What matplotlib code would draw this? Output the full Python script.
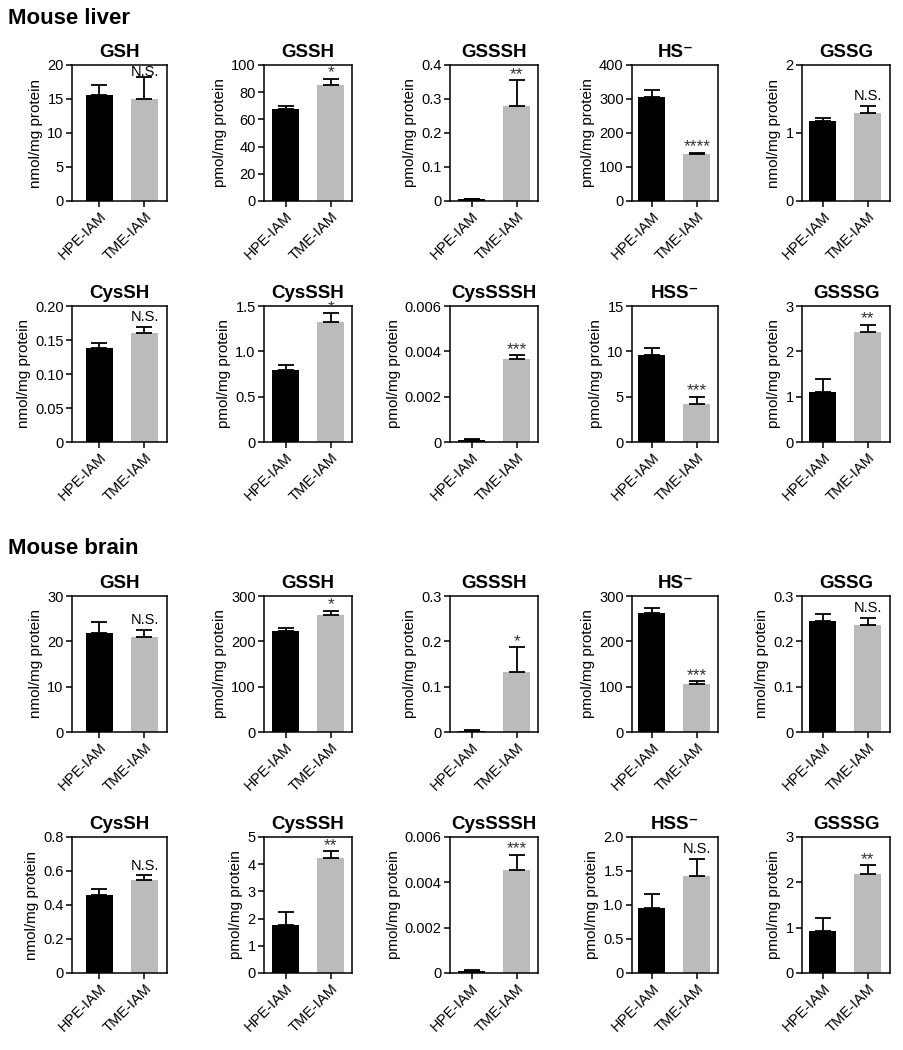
import numpy as np
import matplotlib
matplotlib.use("Agg")
import matplotlib.pyplot as plt

plt.rcParams['font.family'] = ['Liberation Sans', 'DejaVu Sans']

groups = ['HPE-IAM', 'TME-IAM']
names = ['GSH', 'GSSH', 'GSSSH', 'HS⁻', 'GSSG', 'CysSH', 'CysSSH', 'CysSSSH', 'HSS⁻', 'GSSSG']
units = ['nmol', 'pmol', 'pmol', 'pmol', 'nmol', 'nmol', 'pmol', 'pmol', 'pmol', 'pmol']

# mouse liver
liver_hpe = [15.6, 67.5, 0.005, 306, 1.17, 0.138, 0.79, 0.0001, 9.6, 1.1]
liver_hpe_err = [1.4, 2.5, 0.001, 21, 0.05, 0.008, 0.06, 0.00002, 0.8, 0.3]
liver_tme = [15.0, 85, 0.278, 137, 1.29, 0.161, 1.32, 0.00368, 4.2, 2.43]
liver_tme_err = [3.2, 5, 0.077, 5, 0.11, 0.008, 0.10, 0.00015, 0.8, 0.16]
liver_sig = ['N.S.', '*', '**', '****', 'N.S.', 'N.S.', '*', '***', '***', '**']
liver_ymax = [20, 100, 0.4, 400, 2, 0.20, 1.5, 0.006, 15, 3]
liver_ystep = [5, 20, 0.1, 100, 1, 0.05, 0.5, 0.002, 5, 1]
liver_dec = [0, 0, 1, 0, 0, 2, 1, 3, 0, 0]

# mouse brain
brain_hpe = [21.9, 222, 0.003, 262, 0.245, 0.46, 1.77, 0.0001, 0.95, 0.92]
brain_hpe_err = [2.4, 8, 0.001, 11, 0.015, 0.035, 0.48, 0.00002, 0.21, 0.29]
brain_tme = [21.0, 257, 0.132, 105, 0.236, 0.545, 4.22, 0.00455, 1.43, 2.19]
brain_tme_err = [1.6, 11, 0.055, 7, 0.016, 0.03, 0.26, 0.00066, 0.25, 0.19]
brain_sig = ['N.S.', '*', '*', '***', 'N.S.', 'N.S.', '**', '***', 'N.S.', '**']
brain_ymax = [30, 300, 0.3, 300, 0.3, 0.8, 5, 0.006, 2.0, 3]
brain_ystep = [10, 100, 0.1, 100, 0.1, 0.2, 1, 0.002, 0.5, 1]
brain_dec = [0, 0, 1, 0, 1, 1, 0, 3, 1, 0]

W, H = 904, 1050
fig = plt.figure(figsize=(W / 100, H / 100), dpi=100)

col_left = [72, 264, 450, 632, 802]
col_xlim = [(-0.61, 1.5), (-0.48, 1.48), (-0.48, 1.48), (-0.44, 1.48), (-0.46, 1.5)]
unit_px = 45
row_top = [65, 306, 596, 837]
row_h = 136


def panel(ax, name, unit, means, errs, sig, ymax, step, dec):
    x = np.arange(2)
    ax.bar(x, means, width=0.6, color=['black', '#bbbbbb'], zorder=1)
    ax.errorbar(x, means, yerr=[np.zeros(2), errs], fmt='none', ecolor='black',
                elinewidth=1.3, capsize=5.5, capthick=1.3, zorder=2)
    ax.set_ylim(0, ymax)
    ticks = np.arange(0, ymax + step / 2, step)
    ax.set_yticks(ticks)
    ax.set_yticklabels(['0'] + ['%.*f' % (dec, t) for t in ticks[1:]])
    ax.set_xticks(x)
    ax.set_xticklabels(groups, rotation=45, ha='right', va='top',
                       rotation_mode='anchor', fontsize=10)
    ax.tick_params(direction='out', length=4, width=1.1, labelsize=10.5, pad=2)
    for s in ax.spines.values():
        s.set_linewidth(1.1)
    ax.set_ylabel(unit + '/mg protein', fontsize=11, labelpad=3)
    ax.set_title(name, fontsize=13.5, fontweight='bold', pad=6)
    top = means[1] + errs[1]
    if sig == 'N.S.':
        y = min(top + 0.02 * ymax, 0.9 * ymax)
        ax.text(1, y, sig, ha='center', va='bottom', fontsize=10.5)
    else:
        ax.text(1, top + 0.01 * ymax, sig, ha='center', va='baseline',
                fontsize=12.5, color='#333333')


sets = [
    (liver_hpe, liver_hpe_err, liver_tme, liver_tme_err, liver_sig, liver_ymax, liver_ystep, liver_dec),
    (brain_hpe, brain_hpe_err, brain_tme, brain_tme_err, brain_sig, brain_ymax, brain_ystep, brain_dec),
]

for t, (hm, he, tm, te, sg, ym, st, dc) in enumerate(sets):
    for i in range(10):
        r = t * 2 + i // 5
        c = i % 5
        xl, xr = col_xlim[c]
        w = (xr - xl) * unit_px
        ax = fig.add_axes([col_left[c] / W, 1 - (row_top[r] + row_h) / H, w / W, row_h / H])
        ax.set_xlim(xl, xr)
        panel(ax, names[i], units[i], [hm[i], tm[i]], [he[i], te[i]], sg[i], ym[i], st[i], dc[i])

fig.text(8 / W, 1 - 19 / H, 'Mouse liver', fontsize=16, fontweight='bold', va='center')
fig.text(8 / W, 1 - 549 / H, 'Mouse brain', fontsize=16, fontweight='bold', va='center')

fig.savefig('out.png', dpi=100)
